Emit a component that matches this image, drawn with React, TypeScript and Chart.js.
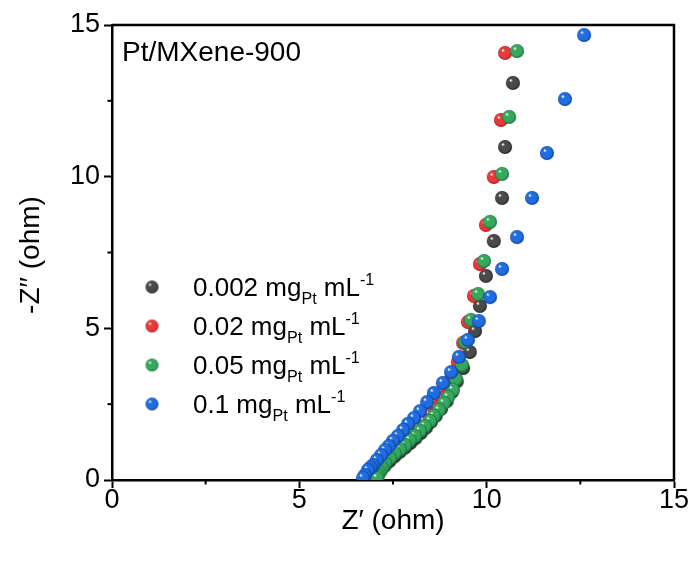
import React, { useEffect, useRef } from 'react';
import { Chart, registerables } from 'chart.js';
Chart.register(...registerables);

const FONT = 'Arial, "Liberation Sans", sans-serif';

// Z' (x) and -Z'' (y) values, ohm
const xBlack = [10.70, 10.49, 10.41, 10.19, 9.98, 9.82, 9.69, 9.55, 9.37, 9.20, 9.07, 8.93, 8.78, 8.64, 8.51, 8.38, 8.24, 8.10, 7.96, 7.82, 7.68, 7.54, 7.40, 7.27, 7.16, 7.08, 7.04];
const yBlack = [13.09, 10.98, 9.30, 7.88, 6.73, 5.74, 4.91, 4.22, 3.69, 3.25, 2.90, 2.60, 2.35, 2.12, 1.92, 1.73, 1.55, 1.38, 1.22, 1.07, 0.93, 0.78, 0.62, 0.46, 0.30, 0.15, 0.05];

const xRed = [10.49, 10.38, 10.19, 9.98, 9.82, 9.66, 9.50, 9.37, 9.23, 9.07, 8.95, 8.80, 8.62, 8.47, 8.33, 8.18, 8.03, 7.90, 7.76, 7.63, 7.50, 7.37, 7.24, 7.12, 7.02, 6.94, 6.90];
const yRed = [14.08, 11.87, 9.99, 8.41, 7.12, 6.07, 5.21, 4.52, 3.89, 3.40, 3.00, 2.70, 2.40, 2.15, 1.95, 1.75, 1.55, 1.38, 1.20, 1.05, 0.90, 0.75, 0.60, 0.45, 0.30, 0.15, 0.05];

const xGreen = [10.81, 10.60, 10.41, 10.09, 9.93, 9.77, 9.58, 9.42, 9.34, 9.18, 9.10, 8.97, 8.86, 8.73, 8.59, 8.49, 8.35, 8.22, 8.09, 7.95, 7.82, 7.69, 7.55, 7.42, 7.29, 7.21, 7.14, 7.10, 7.07];
const yGreen = [14.14, 11.97, 10.09, 8.51, 7.22, 6.13, 5.28, 4.55, 3.79, 3.33, 2.97, 2.74, 2.54, 2.31, 2.11, 1.95, 1.78, 1.62, 1.45, 1.32, 1.15, 1.02, 0.89, 0.73, 0.56, 0.40, 0.26, 0.16, 0.07];

const xBlue = [12.60, 12.09, 11.61, 11.21, 10.81, 10.41, 10.09, 9.79, 9.50, 9.26, 9.05, 8.83, 8.59, 8.41, 8.22, 8.06, 7.90, 7.77, 7.63, 7.50, 7.39, 7.29, 7.18, 7.07, 6.97, 6.90, 6.83, 6.75, 6.70];
const yBlue = [14.67, 12.56, 10.78, 9.30, 8.01, 6.96, 6.03, 5.24, 4.62, 4.06, 3.56, 3.20, 2.87, 2.57, 2.27, 2.04, 1.85, 1.65, 1.45, 1.29, 1.12, 0.99, 0.82, 0.66, 0.49, 0.41, 0.33, 0.16, 0.07];

const concentrations = ['0.002', '0.02', '0.05', '0.1'];
const seriesColors = ['#4a4a4a', '#e83a3a', '#35a85e', '#1f6de0'];
const seriesDark = ['#1e1e1e', '#a81818', '#17703a', '#0b3f96'];
const xTicks = [0, 5, 10, 15];
const yTicks = [0, 5, 10, 15];
const minorTicks = [2.5, 7.5, 12.5];
const panelLabel = 'Pt/MXene-900';
const xTitle = 'Z\u2032 (ohm)';
const yTitle = '-Z\u2032\u2032 (ohm)';

function makeBall(color: string, dark: string, r: number): HTMLCanvasElement {
  const s = Math.ceil(r * 2 + 2);
  const c = document.createElement('canvas');
  c.width = s;
  c.height = s;
  const g = c.getContext('2d')!;
  const cx = s / 2, cy = s / 2;
  const grad = g.createRadialGradient(cx - r * 0.35, cy - r * 0.4, r * 0.05, cx, cy, r);
  grad.addColorStop(0, 'rgba(255,255,255,0.95)');
  grad.addColorStop(0.22, color);
  grad.addColorStop(0.75, color);
  grad.addColorStop(1, dark);
  g.fillStyle = grad;
  g.beginPath();
  g.arc(cx, cy, r, 0, Math.PI * 2);
  g.fill();
  return c;
}

function drawRich(ctx: CanvasRenderingContext2D, x: number, yMid: number, parts: { t: string; m: string }[], size: number) {
  const base = yMid + size * 0.36;
  let cx = x;
  ctx.textAlign = 'left';
  ctx.textBaseline = 'alphabetic';
  ctx.fillStyle = '#000';
  for (const p of parts) {
    let fs = size, by = base;
    if (p.m === 'sub') { fs = size * 0.62; by = base + size * 0.3; }
    if (p.m === 'sup') { fs = size * 0.62; by = base - size * 0.42; }
    ctx.font = `${fs}px ${FONT}`;
    ctx.fillText(p.t, cx, by);
    cx += ctx.measureText(p.t).width;
  }
}

export default function App() {
  const ref = useRef<HTMLCanvasElement | null>(null);
  useEffect(() => {
    if (!ref.current) return;
    const balls = seriesColors.map((c, i) => makeBall(c, seriesDark[i], 7));
    const legendBalls = seriesColors.map((c, i) => makeBall(c, seriesDark[i], 6.5));
    const xs = [xBlack, xRed, xGreen, xBlue];
    const ys = [yBlack, yRed, yGreen, yBlue];

    const decor = {
      id: 'decor',
      afterDraw(chart: any) {
        const ctx = chart.ctx as CanvasRenderingContext2D;
        const a = chart.chartArea;
        const sx = chart.scales.x, sy = chart.scales.y;
        ctx.save();
        ctx.strokeStyle = '#000';
        ctx.lineWidth = 2.5;
        ctx.beginPath();
        ctx.moveTo(a.left, a.top);
        ctx.lineTo(a.right, a.top);
        ctx.lineTo(a.right, a.bottom);
        ctx.stroke();
        ctx.lineWidth = 2;
        for (const v of minorTicks) {
          const px = sx.getPixelForValue(v);
          ctx.beginPath();
          ctx.moveTo(px, a.bottom);
          ctx.lineTo(px, a.bottom + 4.5);
          ctx.stroke();
          const py = sy.getPixelForValue(v);
          ctx.beginPath();
          ctx.moveTo(a.left, py);
          ctx.lineTo(a.left - 4.5, py);
          ctx.stroke();
        }
        ctx.fillStyle = '#000';
        ctx.font = `28px ${FONT}`;
        ctx.textAlign = 'center';
        ctx.textBaseline = 'middle';
        ctx.fillText(xTitle, (a.left + a.right) / 2, 521);
        ctx.save();
        ctx.translate(31, 255);
        ctx.rotate(-Math.PI / 2);
        ctx.fillText(yTitle, 0, 0);
        ctx.restore();
        ctx.font = `28px ${FONT}`;
        ctx.textAlign = 'left';
        ctx.fillText(panelLabel, a.left + 10, 53);
        const rowY = [287, 326, 365, 404];
        concentrations.forEach((c, i) => {
          const b = legendBalls[i];
          ctx.drawImage(b, 152 - b.width / 2, rowY[i] - b.height / 2);
          drawRich(ctx, 193, rowY[i], [
            { t: c + ' mg', m: 'n' },
            { t: 'Pt', m: 'sub' },
            { t: ' mL', m: 'n' },
            { t: '-1', m: 'sup' },
          ], 26);
        });
        ctx.restore();
      },
    };

    const chart = new Chart(ref.current, {
      type: 'scatter',
      data: {
        datasets: concentrations.map((c, i) => ({
          label: c,
          data: xs[i].map((x, j) => ({ x, y: ys[i][j] })),
          pointStyle: balls[i],
          order: 4 - i,
          showLine: false,
        })),
      },
      options: {
        responsive: false,
        animation: false,
        layout: { padding: { top: 25, right: 22, left: 0, bottom: 0 } },
        plugins: { legend: { display: false }, tooltip: { enabled: false } },
        scales: {
          x: {
            type: 'linear',
            min: 0,
            max: 15,
            afterBuildTicks: (s: any) => { s.ticks = xTicks.map((v) => ({ value: v })); },
            ticks: { font: { size: 27, family: FONT }, color: '#000', padding: -4, maxRotation: 0 },
            grid: { drawOnChartArea: false, drawTicks: true, tickLength: 8, tickWidth: 2, tickColor: '#000' },
            border: { display: true, color: '#000', width: 2.5 },
            afterFit: (s: any) => { s.height = 83; },
          },
          y: {
            type: 'linear',
            min: 0,
            max: 15,
            afterBuildTicks: (s: any) => { s.ticks = yTicks.map((v) => ({ value: v })); },
            ticks: { font: { size: 27, family: FONT }, color: '#000', padding: 4 },
            grid: { drawOnChartArea: false, drawTicks: true, tickLength: 8, tickWidth: 2, tickColor: '#000' },
            border: { display: true, color: '#000', width: 2.5 },
            afterFit: (s: any) => { s.width = 112; },
          },
        },
      },
      plugins: [decor],
    } as any);
    return () => chart.destroy();
  }, []);

  return (
    <div style={{ position: 'absolute', left: 0, top: 0, width: 696, height: 563, background: '#fff' }}>
      <canvas ref={ref} width={696} height={563} />
    </div>
  );
}
